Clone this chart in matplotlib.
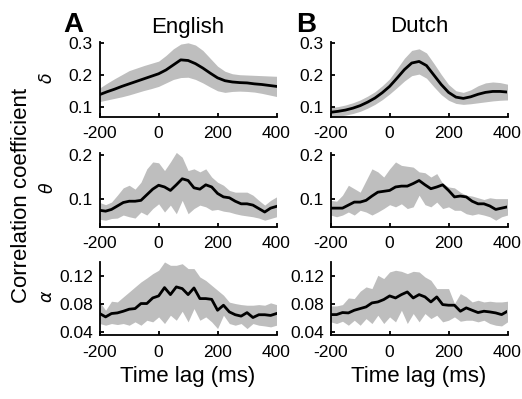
import numpy as np
import matplotlib
matplotlib.use("Agg")
import matplotlib.pyplot as plt

plt.rcParams['font.family'] = ['Liberation Sans', 'DejaVu Sans']
plt.rcParams['axes.unicode_minus'] = False
plt.rcParams['mathtext.fontset'] = 'dejavusans'

# ---------------- data ----------------
lag_smooth = np.arange(-200, 401, 25)   # ms, delta band
lag = np.arange(-200, 401, 20)          # ms, theta / alpha bands

eng_delta_mean = [0.138, 0.147, 0.155, 0.164, 0.172, 0.180, 0.188, 0.196, 0.204, 0.216, 0.232,
                  0.248, 0.246, 0.236, 0.222, 0.206, 0.191, 0.182, 0.178, 0.176, 0.175, 0.172,
                  0.170, 0.167, 0.164]
eng_delta_upper = [0.159, 0.174, 0.188, 0.201, 0.214, 0.222, 0.230, 0.237, 0.244, 0.262, 0.283,
                   0.298, 0.302, 0.295, 0.278, 0.253, 0.228, 0.212, 0.204, 0.201, 0.200, 0.199,
                   0.198, 0.197, 0.196]
eng_delta_lower = [0.116, 0.121, 0.126, 0.131, 0.137, 0.144, 0.151, 0.157, 0.164, 0.175, 0.186,
                   0.192, 0.193, 0.186, 0.175, 0.162, 0.150, 0.145, 0.148, 0.149, 0.148, 0.146,
                   0.142, 0.137, 0.132]

dut_delta_mean = [0.082, 0.085, 0.089, 0.095, 0.103, 0.114, 0.127, 0.144, 0.164, 0.190, 0.217,
                  0.238, 0.243, 0.230, 0.200, 0.170, 0.145, 0.130, 0.126, 0.131, 0.139, 0.145,
                  0.148, 0.148, 0.146]
dut_delta_err = [0.015, 0.015, 0.016, 0.017, 0.018, 0.019, 0.020, 0.022, 0.024, 0.030, 0.036,
                 0.040, 0.040, 0.040, 0.037, 0.032, 0.025, 0.020, 0.019, 0.022, 0.027, 0.030,
                 0.030, 0.028, 0.025]

eng_theta_mean = [0.073, 0.071, 0.075, 0.083, 0.091, 0.094, 0.094, 0.096, 0.109, 0.122, 0.131,
                  0.127, 0.119, 0.132, 0.146, 0.142, 0.125, 0.122, 0.132, 0.127, 0.112, 0.104,
                  0.102, 0.094, 0.088, 0.088, 0.085, 0.077, 0.069, 0.078, 0.082]
eng_theta_upper = [0.091, 0.086, 0.092, 0.108, 0.125, 0.131, 0.122, 0.138, 0.169, 0.185, 0.183,
                   0.165, 0.185, 0.207, 0.196, 0.165, 0.169, 0.162, 0.169, 0.150, 0.138, 0.131,
                   0.119, 0.115, 0.115, 0.115, 0.108, 0.096, 0.085, 0.096, 0.104]
eng_theta_lower = [0.052, 0.050, 0.054, 0.055, 0.062, 0.058, 0.055, 0.069, 0.062, 0.077, 0.088,
                   0.069, 0.085, 0.065, 0.096, 0.065, 0.077, 0.085, 0.081, 0.073, 0.075, 0.071,
                   0.069, 0.065, 0.062, 0.060, 0.058, 0.055, 0.050, 0.054, 0.058]

dut_theta_mean = [0.078, 0.078, 0.078, 0.085, 0.092, 0.092, 0.096, 0.106, 0.115, 0.117, 0.119,
                  0.127, 0.129, 0.129, 0.135, 0.142, 0.132, 0.123, 0.127, 0.132, 0.119, 0.104,
                  0.106, 0.104, 0.094, 0.088, 0.088, 0.083, 0.075, 0.078, 0.081]
dut_theta_upper = [0.096, 0.094, 0.108, 0.131, 0.123, 0.115, 0.142, 0.169, 0.162, 0.150, 0.169,
                   0.185, 0.177, 0.175, 0.173, 0.162, 0.160, 0.150, 0.158, 0.135, 0.127, 0.125,
                   0.115, 0.108, 0.106, 0.102, 0.098, 0.102, 0.100, 0.100, 0.100]
dut_theta_lower = [0.062, 0.058, 0.062, 0.069, 0.062, 0.073, 0.069, 0.062, 0.069, 0.077, 0.086,
                   0.081, 0.088, 0.077, 0.081, 0.108, 0.086, 0.081, 0.092, 0.077, 0.081, 0.073,
                   0.073, 0.065, 0.062, 0.065, 0.062, 0.058, 0.050, 0.058, 0.062]

eng_alpha_mean = [0.0667, 0.0619, 0.0667, 0.0676, 0.0700, 0.0729, 0.0738, 0.0810, 0.0810, 0.0890,
                  0.0919, 0.1038, 0.0938, 0.1048, 0.1024, 0.0938, 0.1033, 0.0881, 0.0881, 0.0870,
                  0.0714, 0.0786, 0.0690, 0.0650, 0.0630, 0.0680, 0.0610, 0.0650, 0.0650, 0.0640,
                  0.0667]
eng_alpha_upper = [0.0833, 0.0714, 0.0843, 0.0833, 0.0905, 0.0976, 0.1048, 0.1119, 0.1176, 0.1238,
                   0.1286, 0.1405, 0.1357, 0.1357, 0.1380, 0.1310, 0.1310, 0.1190, 0.1140, 0.1070,
                   0.1000, 0.0930, 0.0830, 0.0810, 0.0795, 0.0786, 0.0786, 0.0795, 0.0786, 0.0820,
                   0.0795]
eng_alpha_lower = [0.0524, 0.0500, 0.0524, 0.0510, 0.0524, 0.0500, 0.0548, 0.0500, 0.0571, 0.0548,
                   0.0619, 0.0524, 0.0643, 0.0571, 0.0700, 0.0548, 0.0738, 0.0571, 0.0619, 0.0548,
                   0.0452, 0.0643, 0.0524, 0.0500, 0.0524, 0.0452, 0.0524, 0.0500, 0.0490, 0.0476,
                   0.0500]

dut_alpha_mean = [0.0652, 0.0652, 0.0681, 0.0676, 0.0714, 0.0738, 0.0762, 0.0819, 0.0833, 0.0867,
                  0.0919, 0.0890, 0.0938, 0.0976, 0.0890, 0.0938, 0.0905, 0.0833, 0.0905, 0.0795,
                  0.0786, 0.0786, 0.0700, 0.0748, 0.0714, 0.0681, 0.0700, 0.0690, 0.0676, 0.0652,
                  0.0700]
dut_alpha_upper = [0.0776, 0.0776, 0.0795, 0.0890, 0.0881, 0.0986, 0.1048, 0.1024, 0.1214, 0.1167,
                   0.1262, 0.1286, 0.1271, 0.1238, 0.1271, 0.1262, 0.1190, 0.1143, 0.1024, 0.1024,
                   0.1024, 0.0810, 0.0952, 0.0905, 0.0833, 0.0857, 0.0833, 0.0843, 0.0833, 0.0833,
                   0.0843]
dut_alpha_lower = [0.0548, 0.0524, 0.0557, 0.0500, 0.0571, 0.0500, 0.0595, 0.0524, 0.0643, 0.0524,
                   0.0619, 0.0548, 0.0714, 0.0524, 0.0667, 0.0548, 0.0667, 0.0595, 0.0643, 0.0548,
                   0.0571, 0.0619, 0.0557, 0.0571, 0.0571, 0.0548, 0.0571, 0.0524, 0.0500, 0.0490,
                   0.0548]

xticks = [-200, 0, 200, 400]
row_yticks = [[0.1, 0.2, 0.3], [0.1, 0.2], [0.04, 0.08, 0.12]]
row_yticklabels = [['0.1', '0.2', '0.3'], ['0.1', '0.2'], ['0.04', '0.08', '0.12']]
row_ylims = [(0.068, 0.303), (0.035, 0.205), (0.036, 0.14)]
band_labels = [r'$\delta$', r'$\theta$', r'$\alpha$']
columns = ['English', 'Dutch']
panel_letters = ['A', 'B']

# ---------------- figure ----------------
W, H = 522, 399
fig = plt.figure(figsize=(W / 100, H / 100), dpi=100)

col_x = [99.7, 330.7]
col_w = 176.8
row_top = [42.5, 153.3, 262.3]
row_bot = [116.7, 226.7, 335.0]

panels = [
    [(lag_smooth, eng_delta_mean, eng_delta_lower, eng_delta_upper),
     (lag_smooth, dut_delta_mean,
      np.array(dut_delta_mean) - np.array(dut_delta_err),
      np.array(dut_delta_mean) + np.array(dut_delta_err))],
    [(lag, eng_theta_mean, eng_theta_lower, eng_theta_upper),
     (lag, dut_theta_mean, dut_theta_lower, dut_theta_upper)],
    [(lag, eng_alpha_mean, eng_alpha_lower, eng_alpha_upper),
     (lag, dut_alpha_mean, dut_alpha_lower, dut_alpha_upper)],
]

for r in range(3):
    for c in range(2):
        left = col_x[c] / W
        bottom = 1 - row_bot[r] / H
        height = (row_bot[r] - row_top[r]) / H
        ax = fig.add_axes([left, bottom, col_w / W, height])
        t, m, lo, hi = panels[r][c]
        ax.fill_between(t, lo, hi, color='#bebebe', linewidth=0, zorder=1)
        ax.plot(t, m, color='black', linewidth=2.0, zorder=2)
        ax.set_xlim(-200, 400)
        ax.set_ylim(*row_ylims[r])
        ax.set_xticks(xticks)
        ax.set_xticklabels([str(v) for v in xticks])
        ax.set_yticks(row_yticks[r])
        ax.set_yticklabels(row_yticklabels[r])
        for s in ['top', 'right']:
            ax.spines[s].set_visible(False)
        for s in ['left', 'bottom']:
            ax.spines[s].set_linewidth(1.3)
        ax.tick_params(direction='in', length=3, width=1.3, labelsize=12.5)
        ax.tick_params(axis='x', pad=7)
        ax.tick_params(axis='y', pad=5)
        ax.set_facecolor('none')

for c in range(2):
    cx = (col_x[c] + col_w / 2) / W
    fig.text(cx, 1 - 32.5 / H, columns[c], ha='center', va='baseline', fontsize=16)
    fig.text(cx, 1 - 381.7 / H, 'Time lag (ms)', ha='center', va='baseline', fontsize=16)

fig.text(63 / W, 1 - 32 / H, 'A', ha='left', va='baseline', fontsize=20, fontweight='bold')
fig.text(296 / W, 1 - 31.7 / H, 'B', ha='left', va='baseline', fontsize=20, fontweight='bold')

for r in range(3):
    cy = 1 - ((row_top[r] + row_bot[r]) / 2 - 2) / H
    fig.text(47 / W, cy, band_labels[r], rotation=90, ha='center', va='center', fontsize=12.5)

fig.text(22 / W, 1 - 195 / H, 'Correlation coefficient', rotation=90,
         ha='center', va='center', fontsize=16)

fig.savefig('out.png', dpi=100, facecolor='white')
